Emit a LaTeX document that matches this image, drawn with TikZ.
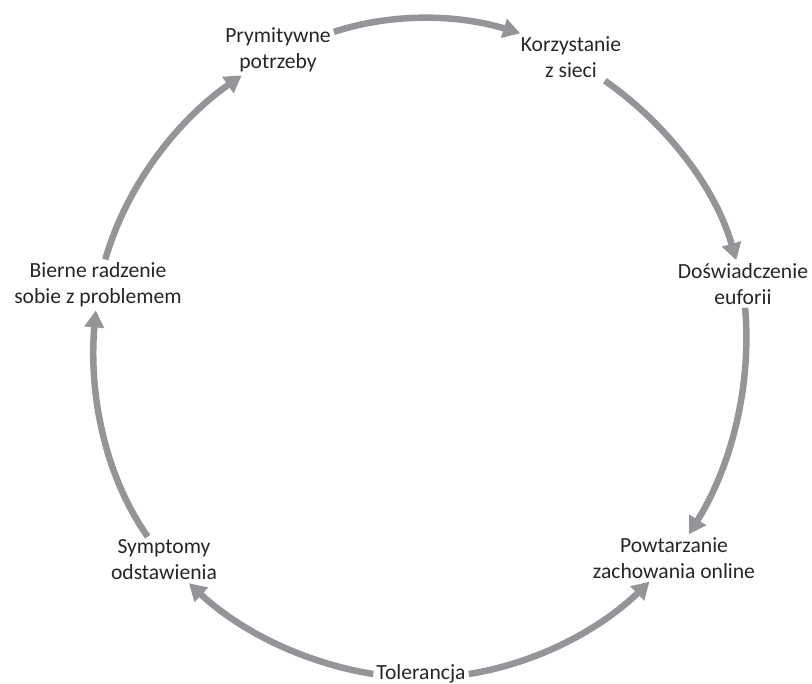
\documentclass[tikz,border=0pt]{standalone}
\usepackage{fontspec}
\setmainfont{Carlito}
\usepackage{xcolor}
\usepackage{tikz}
\usetikzlibrary{arrows.meta}
\definecolor{CycleGrey}{HTML}{939598}
\definecolor{CycleText}{HTML}{262626}

\begin{document}
\begin{tikzpicture}[x=1pt,y=1pt,>=Latex,
 stage/.style={font=\fontsize{21.6}{26}\selectfont,align=center,text=CycleText,inner sep=3pt},
 cyclearrow/.style={draw=CycleGrey,line width=6.5pt,-{Triangle[length=17pt,width=19pt]},looseness=0.87}]
\useasboundingbox (0,0) rectangle (812,684);
\node[stage] (prym) at (278,634) {Prymitywne\\potrzeby};
\node[stage] (korz) at (571,627) {Korzystanie\\z sieci};
\node[stage] (dosw) at (743,400) {Doświadczenie\\euforii};
\node[stage] (powt) at (674,126) {Powtarzanie\\zachowania online};
\node[stage] (tol) at (421,10) {Tolerancja};
\node[stage] (symp) at (164,124) {Symptomy\\odstawienia};
\node[stage] (bier) at (98,399) {Bierne radzenie\\sobie z problemem};
\draw[cyclearrow] (prym) to[out=18,in=163] (korz.155);
\draw[cyclearrow] (korz) to[out=-35,in=106] (dosw);
\draw[cyclearrow] (dosw) to[out=-85,in=58] (powt);
\draw[cyclearrow] (tol.east) to[out=9,in=224] (powt);
\draw[cyclearrow] (tol.west) to[out=171,in=-43] (symp);
\draw[cyclearrow] (symp) to[out=125,in=265] (bier);
\draw[cyclearrow] (bier) to[out=74,in=215] (prym);
\end{tikzpicture}
\end{document}
